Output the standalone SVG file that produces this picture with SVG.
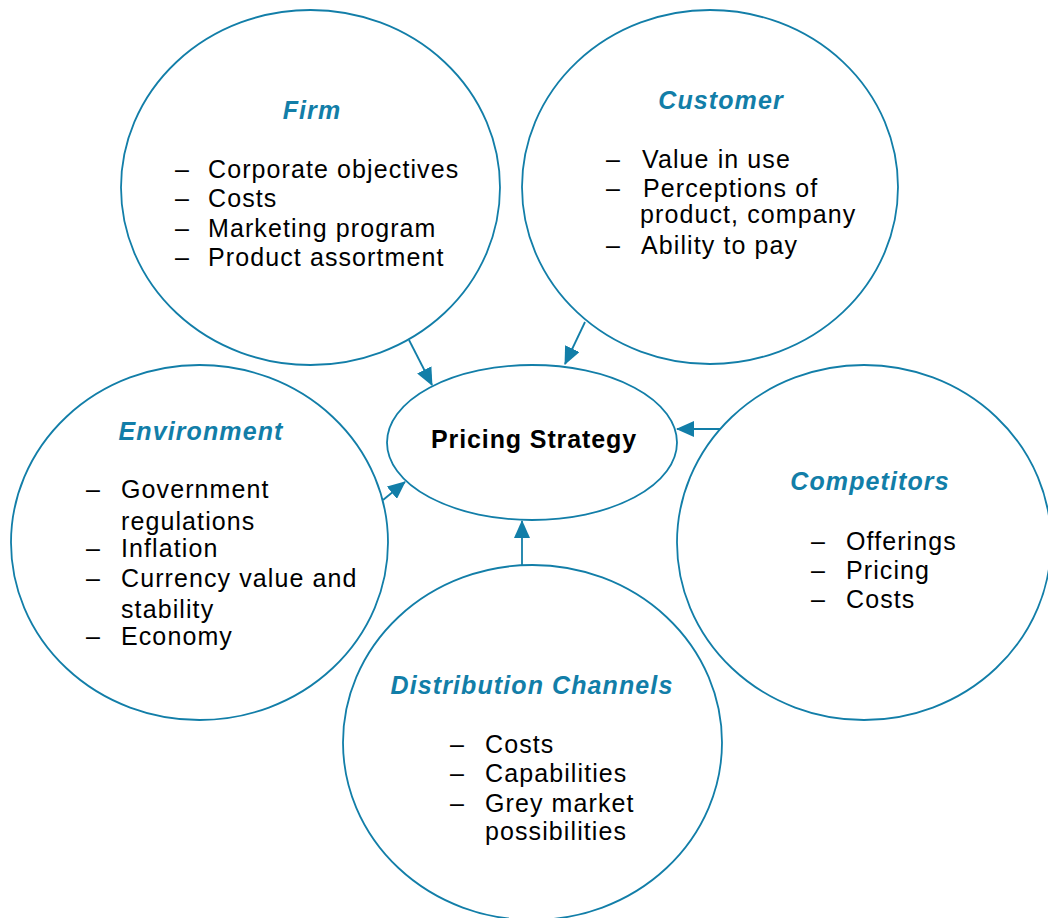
<svg xmlns="http://www.w3.org/2000/svg" width="1048" height="918" viewBox="0 0 1048 918">
<style>
.c{fill:none;stroke:#127ea8;stroke-width:1.8}
.t{font-family:"Liberation Sans",Arial,sans-serif;font-size:25px;font-weight:bold;font-style:italic;fill:#127ea8;letter-spacing:1.1px;text-anchor:middle}
.b{font-family:"Liberation Sans",Arial,sans-serif;font-size:25px;fill:#000;letter-spacing:1.1px}
.p{font-family:"Liberation Sans",Arial,sans-serif;font-size:25px;font-weight:bold;fill:#000;letter-spacing:0.9px;text-anchor:middle}
.a{stroke:#127ea8;stroke-width:1.8;fill:none;marker-end:url(#ah)}
</style>
<defs>
<marker id="ah" markerUnits="userSpaceOnUse" markerWidth="18" markerHeight="16" viewBox="0 0 18 16" refX="17" refY="8" orient="auto">
<path d="M0,0 L18,8 L0,16 z" fill="#127ea8"/>
</marker>
</defs>
<rect width="1048" height="918" fill="#fff"/>
<g id="firm">
<ellipse class="c" cx="310.5" cy="187.5" rx="189.5" ry="177.5"/>
<text class="t" x="312" y="119">Firm</text>
<text class="b" x="175" y="178">–</text><text class="b" x="208" y="178">Corporate objectives</text>
<text class="b" x="175" y="207">–</text><text class="b" x="208" y="207">Costs</text>
<text class="b" x="175" y="237">–</text><text class="b" x="208" y="237">Marketing program</text>
<text class="b" x="175" y="266">–</text><text class="b" x="208" y="266">Product assortment</text>
</g>
<g id="customer">
<ellipse class="c" cx="710" cy="187" rx="188" ry="177"/>
<text class="t" x="721" y="109">Customer</text>
<text class="b" x="606" y="168">–</text><text class="b" x="642" y="168">Value in use</text>
<text class="b" x="606" y="197">–</text><text class="b" x="643" y="197">Perceptions of</text>
<text class="b" x="640" y="223">product, company</text>
<text class="b" x="606" y="254">–</text><text class="b" x="641" y="254">Ability to pay</text>
</g>
<g id="environment">
<ellipse class="c" cx="199.5" cy="542.5" rx="188.5" ry="177.5"/>
<text class="t" x="201" y="440">Environment</text>
<text class="b" x="86" y="498">–</text><text class="b" x="121" y="498">Government</text>
<text class="b" x="121" y="530">regulations</text>
<text class="b" x="86" y="557">–</text><text class="b" x="121" y="557">Inflation</text>
<text class="b" x="86" y="587">–</text><text class="b" x="121" y="587">Currency value and</text>
<text class="b" x="121" y="618">stability</text>
<text class="b" x="86" y="645">–</text><text class="b" x="121" y="645">Economy</text>
</g>
<g id="competitors">
<ellipse class="c" cx="864" cy="542.5" rx="187" ry="177.5"/>
<text class="t" x="870" y="490">Competitors</text>
<text class="b" x="811" y="550">–</text><text class="b" x="846" y="550">Offerings</text>
<text class="b" x="811" y="579">–</text><text class="b" x="846" y="579">Pricing</text>
<text class="b" x="811" y="608">–</text><text class="b" x="846" y="608">Costs</text>
</g>
<g id="distribution">
<ellipse class="c" cx="532.5" cy="742.5" rx="189.5" ry="177.5"/>
<text class="t" x="532" y="694">Distribution Channels</text>
<text class="b" x="450" y="753">–</text><text class="b" x="485" y="753">Costs</text>
<text class="b" x="450" y="782">–</text><text class="b" x="485" y="782">Capabilities</text>
<text class="b" x="450" y="812">–</text><text class="b" x="485" y="812">Grey market</text>
<text class="b" x="485" y="840">possibilities</text>
</g>
<g id="pricing">
<ellipse class="c" cx="532" cy="442.5" rx="145" ry="77.5"/>
<text class="p" x="534" y="448">Pricing Strategy</text>
</g>
<g id="connectors">
<line class="a" x1="409" y1="340" x2="432" y2="385"/>
<line class="a" x1="585" y1="322" x2="565" y2="364"/>
<line class="a" x1="720" y1="429" x2="677" y2="429"/>
<line class="a" x1="383" y1="500" x2="405" y2="482"/>
<line class="a" x1="522" y1="565" x2="522" y2="521"/>
</g>
</svg>
